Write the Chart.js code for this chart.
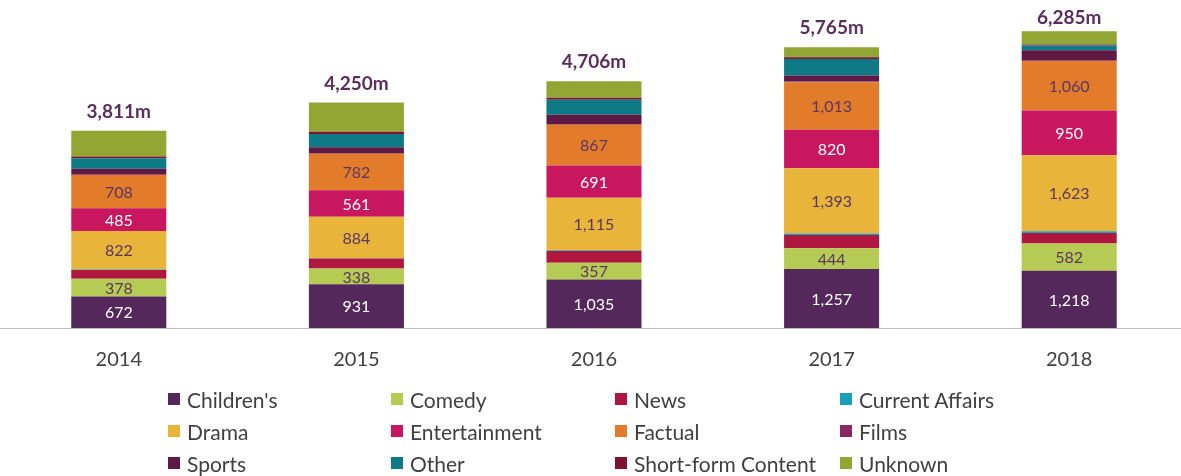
<!DOCTYPE html>
<html>
<head>
<meta charset="utf-8">
<script src="https://cdn.jsdelivr.net/npm/chart.js@4"></script>
<style>
  html, body { margin: 0; padding: 0; background: #fff; }
  #wrap { position: relative; width: 1181px; height: 476px; overflow: hidden; }
  #chart { position: absolute; left: 0; top: 0; }
  #legend {
    position: absolute; left: 168px; top: 383px;
    display: grid; grid-template-columns: 223px 224px 225px 200px;
    grid-auto-rows: 32px;
    font-family: Lato, "Open Sans", sans-serif; font-size: 21px; color: #404040;
  }
  .item { display: flex; align-items: center; white-space: nowrap; }
  .box { width: 12px; height: 12px; margin-right: 7px; flex: none; }
</style>
</head>
<body>
<div id="wrap">
  <canvas id="chart" width="1188" height="392"></canvas>
  <div id="legend"></div>
</div>
<script>
// values (millions)
var years = ['2014', '2015', '2016', '2017', '2018'];
var childrens = [672, 931, 1035, 1257, 1218];
var comedy = [378, 338, 357, 444, 582];
var news = [185, 210, 248, 283, 226];
var currentAffairs = [10, 10, 20, 30, 35];
var drama = [822, 884, 1115, 1393, 1623];
var entertainment = [485, 561, 691, 820, 950];
var factual = [708, 782, 867, 1013, 1060];
var films = [15, 15, 15, 15, 15];
var sports = [120, 120, 197, 127, 212];
var other = [225, 283, 318, 354, 100];
var shortForm = [35, 50, 45, 35, 20];
var unknown = [550, 621, 354, 212, 283];
var totals = [3811, 4250, 4706, 5765, 6285];

var purpleText = '#5B3663';

// label, data, colour, inside-label colour (null = no label)
var series = [
    ["Children's", childrens, '#54285A', '#ffffff'],
    ['Comedy', comedy, '#B5CB53', purpleText],
    ['News', news, '#B0173F', null],
    ['Current Affairs', currentAffairs, '#1AA0B8', null],
    ['Drama', drama, '#E8B43A', purpleText],
    ['Entertainment', entertainment, '#C8165F', '#ffffff'],
    ['Factual', factual, '#E27B2A', purpleText],
    ['Films', films, '#8A2863', null],
    ['Sports', sports, '#5E1A45', null],
    ['Other', other, '#0E7A86', null],
    ['Short-form Content', shortForm, '#7E1330', null],
    ['Unknown', unknown, '#93A533', null]
];

var fmt = function (v) { return v.toLocaleString('en-US'); };

// draws the numbers inside the big segments and the totals on top
var labelsPlugin = {
    id: 'labelsPlugin',
    afterDatasetsDraw: function (chart) {
        var ctx = chart.ctx;
        ctx.save();
        ctx.textAlign = 'center';
        ctx.textBaseline = 'middle';
        ctx.font = '16px Lato, "Open Sans", sans-serif';
        chart.data.datasets.forEach(function (ds, i) {
            if (!ds.labelColor) return;
            chart.getDatasetMeta(i).data.forEach(function (bar, j) {
                ctx.fillStyle = ds.labelColor;
                ctx.fillText(fmt(ds.data[j]), bar.x, (bar.y + bar.base) / 2 + 1);
            });
        });
        var last = chart.getDatasetMeta(chart.data.datasets.length - 1);
        ctx.font = 'bold 19px Lato, "Open Sans", sans-serif';
        ctx.fillStyle = '#5B2E5E';
        last.data.forEach(function (bar, j) {
            var y = Math.max(bar.y - 19, 18);
            ctx.fillText(fmt(totals[j]) + 'm', bar.x, y);
        });
        ctx.restore();
    }
};

var chartBars = new Chart(document.getElementById('chart'), {
    type: 'bar',
    data: {
        labels: years,
        datasets: series.map(function (s) {
            return {
                label: s[0],
                data: s[1],
                backgroundColor: s[2],
                labelColor: s[3],
                borderWidth: 0,
                barPercentage: 0.4,
                categoryPercentage: 1.0
            };
        })
    },
    options: {
        responsive: false,
        animation: false,
        layout: { padding: { top: 9, left: 0, right: 0, bottom: 0 } },
        plugins: { legend: { display: false }, tooltip: { enabled: false } },
        scales: {
            x: {
                stacked: true,
                grid: { display: false, drawTicks: false },
                border: { display: true, color: '#BFBFBF', width: 1 },
                ticks: {
                    color: '#404040',
                    padding: 20,
                    font: { family: 'Lato, "Open Sans", sans-serif', size: 20 }
                }
            },
            y: {
                stacked: true,
                display: false,
                min: 0,
                max: 6800
            }
        }
    },
    plugins: [labelsPlugin]
});

// legend in 4 columns, same order as the stack
var legend = document.getElementById('legend');
series.forEach(function (s) {
    var item = document.createElement('div');
    item.className = 'item';
    item.innerHTML = '<span class="box" style="background:' + s[2] + '"></span>' + s[0];
    legend.appendChild(item);
});
</script>
</body>
</html>
